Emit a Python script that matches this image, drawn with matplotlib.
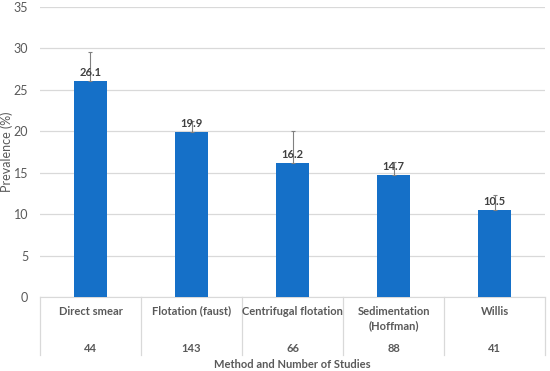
import matplotlib
matplotlib.use("Agg")
import matplotlib.pyplot as plt
import matplotlib.transforms as mtransforms
import numpy as np

# data
methods    = ["Direct smear", "Flotation (faust)", "Centrifugal flotation",
              "Sedimentation\n(Hoffman)", "Willis"]
n_studies  = [44, 143, 66, 88, 41]
prevalence = [26.1, 19.9, 16.2, 14.7, 10.5]
err_upper  = [3.5, 1.3, 3.8, 1.6, 1.8]

BAR_COLOR  = "#1570C8"
GRID_COLOR = "#D9D9D9"
TEXT_DARK  = "#404040"
TEXT_GRAY  = "#595959"

plt.rcParams["font.family"] = ["Lato", "DejaVu Sans"]

fig = plt.figure(figsize=(5.5, 3.71), dpi=100)
ax = fig.add_axes([0.0727, 0.1995, 0.9183, 0.7815])

x = np.arange(len(methods))
ax.bar(x, prevalence, width=0.32, color=BAR_COLOR, zorder=3)
ax.errorbar(x, prevalence, yerr=[np.zeros(len(err_upper)), err_upper],
            fmt="none", ecolor="#808080", elinewidth=0.8, capsize=1.5,
            capthick=0.8, zorder=4)

for xi, v in zip(x, prevalence):
    ax.annotate(f"{v:.1f}", (xi, v), xytext=(0, 2), textcoords="offset points",
                ha="center", va="bottom", fontsize=8, fontweight="bold",
                color=TEXT_DARK, zorder=5)

ax.set_xlim(-0.5, len(methods) - 0.5)
ax.set_ylim(0, 35)
ax.set_yticks(np.arange(0, 36, 5))
ax.tick_params(axis="y", length=0, labelsize=9, labelcolor=TEXT_GRAY, pad=8.5)
ax.set_xticks([])
ax.grid(axis="y", color=GRID_COLOR, linewidth=0.9, zorder=0)
for s in ["top", "right", "left"]:
    ax.spines[s].set_visible(False)
ax.spines["bottom"].set_color(GRID_COLOR)
ax.set_ylabel("Prevalence (%)", fontsize=9, color=TEXT_GRAY)
ax.yaxis.set_label_coords(-0.0535, 0.5)

# category table below the axis
trans = mtransforms.blended_transform_factory(ax.transData, ax.transAxes)
for b in np.arange(-0.5, len(methods), 1.0):
    ax.plot([b, b], [0, -0.2], transform=trans, color=GRID_COLOR,
            linewidth=0.9, clip_on=False)
for xi, name, n in zip(x, methods, n_studies):
    ax.text(xi, -0.03, name, transform=trans, ha="center", va="top",
            fontsize=8, fontweight="bold", color=TEXT_GRAY, linespacing=1.35)
    ax.text(xi, -0.179, str(n), transform=trans, ha="center", va="center",
            fontsize=8, fontweight="bold", color=TEXT_GRAY)

fig.text(0.5 * (0.0727 + 0.991), 1 - 365 / 371, "Method and Number of Studies",
         ha="center", va="center", fontsize=8, fontweight="bold", color=TEXT_GRAY)

fig.savefig("out.png", dpi=100)
